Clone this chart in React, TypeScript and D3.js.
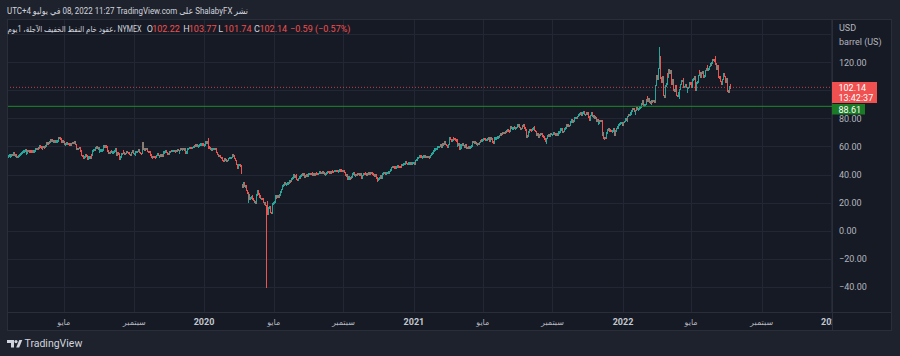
import React from "react";
import * as d3 from "d3";

// ---------------- data (daily closes, CL1! NYMEX, one sub-array per month) ----------------
// 2019: January starts on the 22nd (first bar visible at the pane's left edge)
const wti2019: number[][] = [
  [52.57, 52.62, 53.13, 53.69, 51.99, 53.31, 54.23, 53.79],
  [55.26, 54.56, 53.66, 54.01, 52.64, 52.72, 52.41, 53.1, 53.9, 54.41, 55.59, 55.59, 56.09, 56.92, 56.96, 57.26, 55.48, 55.5, 56.94, 57.22],
  [55.8, 56.59, 56.56, 56.22, 56.66, 56.07, 56.79, 56.87, 58.26, 58.61, 58.52, 59.09, 59.03, 60.23, 59.98, 59.04, 58.82, 59.94, 59.41, 59.3, 60.14],
  [61.59, 62.58, 62.46, 62.1, 63.08, 64.4, 64.05, 64.61, 63.58, 63.89, 63.4, 64.05, 63.76, 64.0, 64.0, 65.7, 66.3, 65.89, 65.21, 63.3, 63.5, 63.91],
  [63.6, 61.81, 61.94, 62.25, 61.4, 62.12, 61.7, 61.66, 61.04, 61.78, 62.02, 62.87, 62.76, 63.1, 62.99, 61.42, 57.91, 58.63, 58.63, 59.14, 58.81, 56.59, 53.5],
  [53.25, 53.48, 51.68, 52.59, 53.99, 53.26, 53.27, 51.14, 52.28, 52.51, 51.93, 53.9, 53.76, 56.65, 57.43, 57.9, 57.83, 59.38, 59.43, 58.47],
  [59.09, 56.25, 57.34, 57.34, 57.51, 57.66, 57.83, 60.43, 60.2, 60.21, 59.58, 57.62, 56.78, 55.3, 55.63, 56.22, 57.0, 55.88, 56.02, 56.2, 56.87, 58.05, 58.58],
  [53.95, 55.66, 54.69, 53.63, 51.09, 52.54, 54.5, 54.93, 57.1, 55.23, 54.47, 54.87, 56.21, 56.34, 55.68, 55.35, 54.17, 53.64, 54.93, 55.78, 56.71, 55.1],
  [55.1, 53.94, 56.26, 56.3, 56.52, 57.85, 57.4, 55.75, 55.09, 54.85, 62.9, 59.34, 58.11, 58.13, 58.09, 58.64, 57.29, 56.49, 56.41, 55.91, 54.07],
  [53.62, 52.64, 52.45, 52.81, 52.75, 52.63, 52.59, 53.55, 54.7, 53.59, 52.81, 53.36, 53.93, 53.78, 53.31, 54.16, 55.97, 56.23, 56.66, 55.81, 55.54, 55.06, 54.18],
  [56.2, 56.54, 57.23, 56.35, 57.15, 57.24, 56.86, 56.8, 57.12, 56.77, 57.72, 57.05, 55.21, 57.11, 58.58, 57.77, 58.01, 58.41, 58.11, 58.11, 55.17],
  [55.96, 56.1, 58.43, 58.43, 59.2, 59.02, 59.24, 58.76, 59.18, 60.07, 60.21, 60.94, 60.93, 61.22, 60.44, 60.52, 61.11, 61.11, 61.68, 61.72, 61.68, 61.06],
];

const wti2020: number[][] = [
  [61.06, 61.18, 63.05, 63.27, 62.7, 59.61, 59.56, 59.04, 58.08, 58.23, 57.81, 58.52, 58.54, 58.54, 58.34, 56.74, 55.59, 54.19, 53.14, 53.48, 53.33, 52.14, 51.56],
  [50.11, 49.61, 50.75, 50.95, 50.32, 49.57, 49.94, 51.17, 51.42, 52.05, 52.05, 52.05, 53.29, 53.78, 53.38, 51.43, 49.9, 48.73, 47.09, 44.76],
  [46.75, 47.18, 46.78, 45.9, 41.28, 31.13, 34.36, 32.98, 31.5, 31.73, 28.7, 26.95, 20.37, 25.22, 22.43, 23.36, 24.01, 24.49, 22.6, 21.51, 20.09, 20.48],
  [20.31, 25.32, 28.34, 26.08, 23.63, 25.09, 22.76, 22.76, 22.41, 20.11, 19.87, 19.87, 18.27, -37.63, 11.57, 13.78, 16.5, 16.94, 12.78, 12.34, 15.06, 18.84],
  [19.78, 20.39, 24.56, 23.99, 23.55, 24.74, 24.14, 25.78, 25.29, 27.56, 29.43, 31.82, 32.5, 33.49, 33.92, 33.25, 33.25, 34.35, 32.81, 33.71, 35.49],
  [35.44, 36.81, 37.29, 37.41, 39.55, 38.19, 38.94, 39.6, 36.34, 36.26, 37.12, 38.38, 37.96, 38.84, 39.75, 40.46, 40.37, 38.01, 38.72, 38.49, 39.7, 39.27],
  [39.82, 40.65, 40.65, 40.63, 40.62, 40.9, 39.62, 40.55, 40.1, 40.29, 41.2, 40.75, 40.59, 40.81, 41.96, 41.9, 41.07, 41.29, 41.6, 41.04, 41.27, 39.92, 40.27],
  [41.01, 41.7, 42.19, 41.95, 41.22, 41.94, 41.61, 42.67, 42.24, 42.01, 42.89, 42.89, 42.93, 42.82, 42.34, 42.62, 43.35, 43.39, 43.04, 42.97, 42.61],
  [42.76, 41.51, 41.37, 39.77, 39.77, 36.76, 38.05, 37.3, 37.33, 37.26, 38.28, 40.16, 40.97, 41.11, 39.31, 39.8, 39.93, 40.31, 40.25, 40.6, 39.29, 40.22],
  [38.72, 37.05, 39.22, 40.67, 39.95, 41.19, 40.6, 39.43, 40.2, 41.04, 40.96, 40.88, 40.83, 41.46, 40.03, 40.64, 39.85, 38.56, 39.57, 37.39, 36.17, 35.79],
  [36.81, 37.66, 39.15, 38.79, 37.14, 40.29, 41.36, 41.45, 41.12, 40.13, 41.34, 41.43, 41.82, 41.74, 42.15, 43.06, 44.91, 45.71, 45.71, 45.53, 45.34],
  [44.55, 45.28, 45.64, 46.26, 45.76, 45.6, 45.52, 46.78, 46.57, 46.99, 47.62, 47.82, 48.36, 49.1, 47.74, 47.02, 48.12, 48.23, 48.23, 47.62, 48.0, 48.4, 48.52],
];

const wti2021: number[][] = [
  [48.52, 47.62, 49.93, 50.63, 50.83, 52.24, 52.25, 53.21, 52.91, 53.57, 52.36, 52.36, 52.98, 53.24, 53.13, 52.27, 52.77, 52.61, 52.85, 52.34, 52.2],
  [53.55, 54.76, 55.69, 56.23, 56.85, 57.97, 58.36, 58.68, 58.24, 59.47, 60.0, 60.05, 61.14, 60.52, 59.24, 61.7, 61.67, 63.22, 63.53, 61.5],
  [60.64, 59.75, 61.28, 63.83, 66.09, 65.05, 64.01, 64.44, 66.02, 65.61, 65.39, 64.8, 64.6, 60.0, 61.42, 61.55, 57.76, 61.18, 58.56, 60.97, 61.56, 60.55, 59.16],
  [61.45, 61.45, 58.65, 59.33, 59.77, 59.6, 59.32, 59.7, 60.18, 63.15, 63.46, 63.13, 63.38, 62.44, 61.35, 61.43, 62.14, 61.91, 62.94, 63.86, 65.01, 63.58],
  [64.49, 65.69, 65.63, 64.71, 64.9, 64.92, 65.28, 66.08, 63.82, 65.37, 66.27, 65.49, 63.36, 62.05, 63.58, 66.05, 66.07, 66.21, 66.85, 66.32, 66.32],
  [67.72, 68.83, 68.81, 69.62, 69.23, 70.05, 69.96, 70.29, 70.91, 70.88, 72.12, 71.15, 71.04, 71.64, 73.66, 73.06, 73.08, 73.3, 74.05, 72.91, 72.98, 73.47],
  [75.23, 75.16, 75.16, 73.37, 72.2, 72.94, 74.56, 74.1, 75.25, 73.13, 71.65, 71.81, 66.42, 67.42, 70.3, 71.91, 72.07, 71.91, 71.65, 72.39, 73.62, 73.95],
  [71.26, 70.56, 68.15, 69.09, 68.28, 66.48, 68.29, 69.25, 69.09, 68.44, 67.29, 66.59, 65.46, 63.5, 62.32, 65.64, 67.54, 67.99, 67.42, 68.74, 69.21, 68.5],
  [68.59, 69.99, 69.29, 69.29, 68.35, 69.3, 68.14, 69.72, 70.45, 70.46, 72.61, 72.61, 71.97, 70.29, 70.56, 72.23, 73.3, 73.98, 75.45, 75.29, 74.83, 75.03],
  [75.88, 77.62, 78.93, 77.43, 78.3, 79.35, 80.52, 80.64, 80.44, 81.31, 82.28, 82.44, 82.96, 83.87, 82.5, 83.76, 83.76, 84.65, 82.66, 82.81, 83.57],
  [84.05, 83.91, 80.86, 78.81, 81.27, 81.93, 84.15, 81.34, 81.59, 80.79, 80.88, 80.76, 78.36, 79.01, 76.1, 76.75, 78.5, 78.39, 78.39, 68.15, 69.95, 66.18],
  [65.57, 66.5, 66.26, 69.49, 72.05, 72.36, 70.94, 71.67, 71.29, 70.73, 70.87, 72.38, 70.86, 68.23, 71.12, 72.76, 73.79, 73.79, 75.57, 75.98, 76.56, 76.99, 75.21],
];

// 2022: through July 8
const wti2022: number[][] = [
  [76.08, 76.99, 77.85, 79.46, 78.9, 78.23, 81.22, 82.64, 82.12, 83.82, 83.82, 85.43, 86.96, 86.9, 85.14, 83.31, 85.6, 87.35, 86.61, 86.82, 88.15],
  [88.2, 88.26, 90.27, 92.31, 91.32, 89.36, 89.66, 89.88, 93.1, 95.46, 92.07, 93.66, 91.76, 91.07, 91.07, 92.35, 92.1, 92.81, 91.59, 95.72],
  [103.41, 110.6, 107.67, 115.68, 119.4, 123.7, 108.7, 106.02, 109.33, 103.01, 96.44, 95.04, 102.98, 104.7, 112.12, 109.27, 114.93, 112.34, 113.9, 105.96, 104.24, 107.82, 100.28],
  [99.27, 103.28, 102.96, 96.23, 96.03, 98.26, 94.29, 100.6, 104.25, 106.95, 106.95, 108.21, 102.56, 102.75, 103.79, 102.07, 98.54, 101.7, 102.02, 105.36, 104.69],
  [105.17, 102.41, 107.81, 108.26, 109.77, 103.09, 99.76, 105.71, 106.13, 110.49, 114.2, 112.4, 109.59, 112.21, 113.23, 110.29, 109.77, 110.33, 114.09, 115.07, 117.5, 114.67],
  [115.26, 116.87, 118.87, 118.5, 119.41, 122.11, 121.51, 120.67, 120.93, 118.93, 115.31, 117.59, 109.56, 109.56, 109.52, 106.19, 104.27, 107.62, 109.57, 111.76, 109.78, 105.76],
  [108.43, 108.43, 99.5, 98.53, 102.73, 102.14],
];

// read-off opens that differ from the previous close (gaps / contract roll)
const openOverrides: [string, number][] = [
  ["2020-03-09", 32.87],
  ["2020-04-20", 17.73],
  ["2020-04-21", 20.43],
  ["2022-07-08", 102.22],
];
// notable intraday extremes
const wickHighs: [string, number][] = [
  ["2020-01-08", 65.65],
  ["2022-03-07", 130.5],
  ["2022-03-08", 129.44],
  ["2022-06-14", 123.68],
  ["2022-07-08", 103.77],
];
const wickLows: [string, number][] = [
  ["2020-04-20", -40.32],
  ["2022-07-08", 101.74],
];

const gridValues = [140, 120, 100, 80, 60, 40, 20, 0, -20, -40];
const priceTickValues = [120, 80, 60, 40, 20, 0, -20, -40];
const timeTickDates = ["2019-05-01", "2019-09-02", "2020-01-01", "2020-05-01", "2020-09-01", "2021-01-01", "2021-05-03", "2021-09-01", "2022-01-03", "2022-05-02", "2022-09-01", "2023-01-02"];
const timeTickLabels = ["مايو", "سبتمبر", "2020", "مايو", "سبتمبر", "2021", "مايو", "سبتمبر", "2022", "مايو", "سبتمبر", "2023"];

const lastPrice = 102.14;
const lastPriceTime = "13:42:37";
const levelPrice = 88.61;
const legendName = "عقود خام النفط الخفيف الآجلة، 1يوم، NYMEX";
const legendOHLC = ["102.22", "103.77", "101.74", "102.14"];
const legendChange = "−0.59 (−0.57%)";
const headerText = "UTC+4 \u2067في يوليو\u2069 08, 2022 11:27 TradingView.com \u2067على\u2069 ShalabyFX \u2067نشر\u2069";

// ---------------- calendar (weekday bar index) ----------------
const DAY = 86400000;
const keyOf = (t: number) => new Date(t).toISOString().slice(0, 10);
const weekdayIndex = new Map<string, number>();
(() => {
  let i = 0;
  for (let t = Date.UTC(2019, 0, 1); t < Date.UTC(2023, 2, 1); t += DAY) {
    const wd = new Date(t).getUTCDay();
    if (wd !== 0 && wd !== 6) weekdayIndex.set(keyOf(t), i++);
  }
})();
function monthWeekdays(y: number, m: number): string[] {
  const out: string[] = [];
  for (let t = Date.UTC(y, m, 1); new Date(t).getUTCMonth() === m; t += DAY) {
    const wd = new Date(t).getUTCDay();
    if (wd !== 0 && wd !== 6) out.push(keyOf(t));
  }
  return out;
}

type Bar = { key: string; idx: number; open: number; close: number; high: number; low: number };
function buildBars(): Bar[] {
  const series: [number, number[][]][] = [
    [2019, wti2019],
    [2020, wti2020],
    [2021, wti2021],
    [2022, wti2022],
  ];
  const oMap = new Map(openOverrides);
  const hMap = new Map(wickHighs);
  const lMap = new Map(wickLows);
  const bars: Bar[] = [];
  let prev: number | null = null;
  for (const [y, months] of series) {
    months.forEach((vals, mi) => {
      let days = monthWeekdays(y, mi);
      days = y === 2019 && mi === 0 ? days.slice(days.length - vals.length) : days.slice(0, vals.length);
      vals.forEach((c, j) => {
        const key = days[j];
        const open = oMap.has(key) ? (oMap.get(key) as number) : prev ?? c;
        const high = Math.max(open, c, hMap.has(key) ? (hMap.get(key) as number) : -Infinity);
        const low = Math.min(open, c, lMap.has(key) ? (lMap.get(key) as number) : Infinity);
        bars.push({ key, idx: weekdayIndex.get(key) as number, open, close: c, high, low });
        prev = c;
      });
    });
  }
  return bars;
}

const UP = "#26a69a";
const DOWN = "#ef5350";
const FONT = "Roboto, 'DejaVu Sans', sans-serif";
const AXIS_TEXT = "#b2b5be";

export default function App() {
  const bars = buildBars();
  const paneL = 7, paneT = 19, paneR = 892, paneB = 331;
  const plotR = 832, plotB = 312;

  const x = d3
    .scaleLinear()
    .domain([weekdayIndex.get("2020-01-01") as number, weekdayIndex.get("2022-01-03") as number])
    .range([204, 623]);
  const y = d3.scaleLinear().domain([-40, 120]).range([286.7, 62.3]);

  const ticksX = timeTickDates.map((d) => x(weekdayIndex.get(d) as number));

  return (
    <svg width={900} height={356} style={{ position: "absolute", left: 0, top: 0, display: "block" }} fontFamily={FONT}>
      <defs>
        <clipPath id="plotClip">
          <rect x={paneL} y={paneT} width={plotR - paneL} height={plotB - paneT} />
        </clipPath>
        <clipPath id="timeClip">
          <rect x={paneL} y={plotB} width={plotR - paneL} height={paneB - plotB} />
        </clipPath>
      </defs>
      <rect x={0} y={0} width={900} height={356} fill="#1e222d" />
      <rect x={paneL} y={paneT} width={paneR - paneL} height={paneB - paneT} fill="#161a25" />

      {/* grid */}
      <g stroke="#232735" strokeWidth={1} shapeRendering="crispEdges" clipPath="url(#plotClip)">
        {gridValues.map((v) => (
          <line key={"h" + v} x1={paneL} x2={plotR} y1={Math.round(y(v)) + 0.5} y2={Math.round(y(v)) + 0.5} />
        ))}
        {ticksX.map((tx, i) => (
          <line key={"v" + i} x1={Math.round(tx) + 0.5} x2={Math.round(tx) + 0.5} y1={paneT} y2={plotB} />
        ))}
      </g>

      {/* candles */}
      <g clipPath="url(#plotClip)" shapeRendering="crispEdges">
        {bars.map((b) => {
          const top = y(b.high) - 0.8;
          const h = Math.max(1, y(b.low) - y(b.high)) + 1.6;
          return <rect key={b.key} x={x(b.idx) - 0.5} y={top} width={1} height={h} fill={b.close >= b.open ? UP : DOWN} />;
        })}
      </g>

      {/* horizontal level + last price line */}
      <line x1={paneL} x2={plotR} y1={y(levelPrice)} y2={y(levelPrice)} stroke="#1f8a2c" strokeWidth={1} />
      <line x1={paneL} x2={plotR} y1={y(lastPrice)} y2={y(lastPrice)} stroke="#f0504f" strokeOpacity={0.75} strokeWidth={1} strokeDasharray="1 2" />

      {/* borders */}
      <g stroke="#2a2e39" strokeWidth={1} shapeRendering="crispEdges" fill="none">
        <rect x={paneL + 0.5} y={paneT + 0.5} width={paneR - paneL - 1} height={paneB - paneT - 1} />
        <line x1={plotR + 0.5} x2={plotR + 0.5} y1={paneT} y2={paneB} />
        <line x1={paneL} x2={paneR} y1={plotB + 0.5} y2={plotB + 0.5} />
      </g>

      {/* price axis */}
      <g fontSize={9} fill={AXIS_TEXT}>
        <text x={839} y={30.5}>USD</text>
        <text x={839} y={44.5}>barrel (US)</text>
        {priceTickValues.map((v) => (
          <text key={v} x={839} y={y(v) + 3.2}>
            {v < 0 ? "\u2212" + Math.abs(v).toFixed(2) : v.toFixed(2)}
          </text>
        ))}
      </g>
      <rect x={832} y={82} width={45} height={21} fill="#f0504f" />
      <text x={838.5} y={90.8} fontSize={9} fill="#ffffff">{lastPrice.toFixed(2)}</text>
      <text x={838.5} y={100.5} fontSize={9} fill="#ffffff">{lastPriceTime}</text>
      <rect x={832} y={104} width={33} height={10.5} fill="#1b7a26" />
      <text x={838.5} y={112.5} fontSize={9} fill="#ffffff">{levelPrice.toFixed(2)}</text>

      {/* time axis */}
      <g clipPath="url(#timeClip)">
        {timeTickLabels.map((lab, i) => {
          const isYear = /^\d+$/.test(lab);
          return (
            <text
              key={i}
              x={ticksX[i]}
              y={324.5}
              textAnchor="middle"
              fontSize={isYear ? 9 : 8}
              fontWeight={isYear ? 700 : 400}
              fill={isYear ? "#c4c7ce" : AXIS_TEXT}
            >
              {lab}
            </text>
          );
        })}
      </g>

      {/* header */}
      <text x={7} y={13.5} fontSize={9} fill="#d1d4dc" textLength={241} lengthAdjust="spacingAndGlyphs">
        {headerText}
      </text>

      {/* legend */}
      <g fontSize={9}>
        <text x={7.5} y={31.5} fill="#d1d4dc" fontSize={8.5} textLength={134} lengthAdjust="spacingAndGlyphs">
          {legendName}
        </text>
        {["O", "H", "L", "C"].map((lab, i) => {
          const xs = [146.7, 183.3, 218.3, 254][i];
          return (
            <g key={lab}>
              <text x={xs} y={31.5} fill="#d1d4dc">{lab}</text>
              <text x={xs + 5.5} y={31.5} fill="#f0504f">{legendOHLC[i]}</text>
            </g>
          );
        })}
        <text x={290} y={31.5} fill="#f0504f">{legendChange}</text>
      </g>

      {/* footer logo */}
      <g fill="#d1d4dc">
        <path d="M7 340 H14 V347.5 H11 V343 H7 Z" />
        <circle cx={16} cy={341.6} r={1.6} />
        <path d="M16.2 347.5 L19.3 340 H22.3 L19.2 347.5 Z" />
        <text x={24.5} y={347} fontSize={10.5}>TradingView</text>
      </g>
    </svg>
  );
}
